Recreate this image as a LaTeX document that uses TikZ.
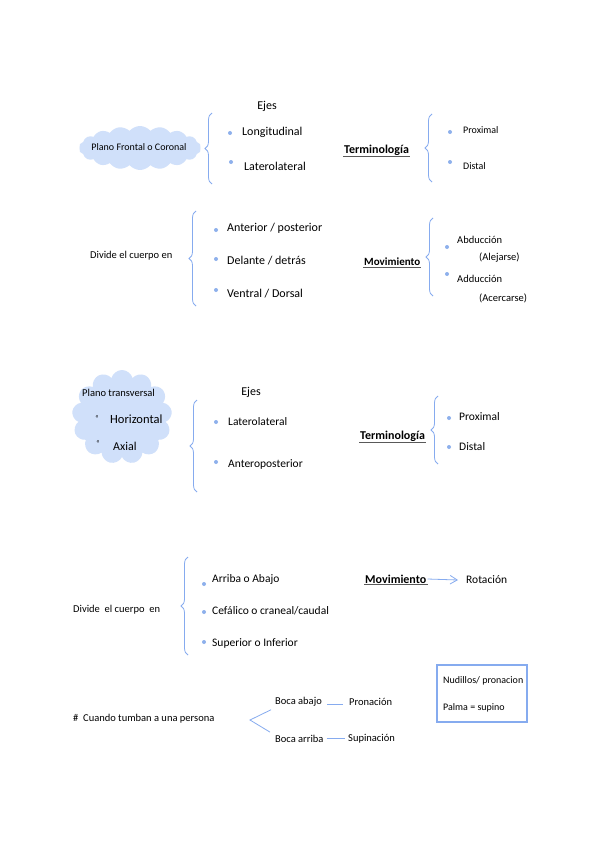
\documentclass[tikz,border=0pt]{standalone}
\usepackage{fontspec}
\setmainfont{Carlito}
\usepackage{tikz}
\usetikzlibrary{arrows.meta,positioning,decorations.pathreplacing,shapes.symbols}
\definecolor{penblue}{HTML}{86ABEF}
\definecolor{blobblue}{HTML}{D0E0FA}
\definecolor{dotblue}{HTML}{8EB0EC}

\begin{document}
\begin{tikzpicture}[
  x=1pt, y=-1pt,
  txt/.style={anchor=west, inner sep=0pt, font=\fontsize{11.5}{13}\selectfont},
  big/.style={txt, font=\fontsize{12}{14}\selectfont},
  small/.style={txt, font=\fontsize{10.5}{12}\selectfont},
  head/.style={anchor=west, inner sep=1pt, font=\bfseries\fontsize{12}{14}\selectfont},
  ejes/.style={inner sep=0pt, font=\fontsize{12}{14}\selectfont},
  blob/.style={cloud, cloud puffs=11, cloud ignores aspect, fill=blobblue,
    draw=none, inner sep=0pt},
  dot/.style={circle, fill=dotblue, inner sep=0pt, minimum size=4pt},
  brc/.style={decorate, decoration={brace, amplitude=7pt}, penblue, thick},
  ul/.style={draw=black!65, thick},
  link/.style={penblue, thick},
  arr/.style={-{Straight Barb[length=2.5mm, width=3mm]}, penblue, thick},
]
\fill[white] (0,0) rectangle (608,848);
\useasboundingbox (0,0) rectangle (608,848);

% (1) Plano frontal
\node[blob, cloud puffs=18, cloud puff arc=100, minimum width=122, minimum height=44]
  (frontal) at (140,148) {};
\node[small, anchor=center, font=\fontsize{10}{12}\selectfont] (frontalT) at (139,147) {Plano Frontal o Coronal};
\node[ejes] (ejes1) at (267,106) {Ejes};
\draw[brc] (212,184) -- (212,113);
\node[dot] (d11) at (230,133) {};
\node[dot] (d12) at (231,162) {};
\node[big] (longi) at (242,132) {Longitudinal};
\node[big] (latlat1) at (244,166) {Laterolateral};

\node[head] (term1) at (343,150) {Terminología};
\draw[ul] (term1.south west) -- (term1.south east);
\draw[brc] (432,182) -- (432,114);
\node[dot] (d13) at (450,132) {};
\node[dot] (d14) at (450,162) {};
\node[small, font=\fontsize{10}{12}\selectfont] (prox1) at (463,130) {Proximal};
\node[small, font=\fontsize{10}{12}\selectfont] (dist1) at (463,166) {Distal};

% (2) Divide el cuerpo / Movimiento
\node[small] (divide1) at (90,256) {Divide el cuerpo en};
\draw[brc] (196,306) -- (196,211);
\node[dot] (d21) at (216,230) {};
\node[dot] (d22) at (216,259) {};
\node[dot] (d23) at (216,290) {};
\node[big] (antpost) at (227,228) {Anterior / posterior};
\node[big] (deldet) at (227,261) {Delante / detrás};
\node[big] (ventdors) at (227,294) {Ventral / Dorsal};

\node[head, font=\bfseries\fontsize{11}{13}\selectfont] (mov1) at (363,262) {Movimiento};
\draw[ul] (mov1.south west) -- (mov1.south east);
\draw[brc] (433,296) -- (433,218);
\node[dot] (d24) at (447,247) {};
\node[dot] (d25) at (447,274) {};
\node[small] (abd) at (457,240) {Abducción};
\node[small] (alej) at (479,258) {(Alejarse)};
\node[small] (add) at (457,279) {Adducción};
\node[small] (acer) at (479,298) {(Acercarse)};

% (3) Plano transversal
\node[blob, cloud puffs=13, minimum width=100, minimum height=94] (transv) at (122,417) {};
\node[small] (transvT) at (82,393) {Plano transversal};
\node[small, font=\fontsize{7}{8}\selectfont] (g1) at (95,417) {«};
\node[txt, font=\fontsize{12.5}{14}\selectfont] (horiz) at (110,419) {Horizontal};
\node[small, font=\fontsize{7}{8}\selectfont] (g2) at (96,442) {«};
\node[txt, font=\fontsize{12}{14}\selectfont] (axial) at (113,446) {Axial};

\node[ejes] (ejes2) at (251,392) {Ejes};
\draw[brc] (197,492) -- (197,400);
\node[dot] (d31) at (216,422) {};
\node[dot] (d32) at (216,462) {};
\node[txt] (latlat2) at (228,422) {Laterolateral};
\node[txt] (antero) at (228,464) {Anteroposterior};

\node[head] (term2) at (359,436) {Terminología};
\draw[ul] (term2.south west) -- (term2.south east);
\draw[brc] (438,464) -- (438,396);
\node[dot] (d33) at (449,418) {};
\node[dot] (d34) at (449,447) {};
\node[txt] (prox2) at (459,417) {Proximal};
\node[txt] (dist2) at (459,447) {Distal};

% (4) Divide el cuerpo / Rotacion
\node[small] (divide2) at (73,610) {Divide\ \ el cuerpo\ \ en};
\draw[brc] (188,655) -- (188,557);
\node[dot] (d41) at (204,584) {};
\node[dot] (d42) at (204,612) {};
\node[dot] (d43) at (204,642) {};
\node[txt] (arriba) at (212,579) {Arriba o Abajo};
\node[txt] (cefal) at (212,611) {Cefálico o craneal/caudal};
\node[txt] (super) at (212,643) {Superior o Inferior};

\node[head] (mov2) at (364,579) {Movimiento};
\draw[ul] (mov2.south west) -- (mov2.south east);
\node[txt] (rot) at (466,580) {Rotación};
\draw[arr] (mov2.east) -- ([xshift=-8pt]rot.west);

% (5) Cuando tumban a una persona
\node[small] (tumban) at (73,719) {\#\ \ Cuando tumban a una persona};
\coordinate (fork) at (250,720);
\node[small] (bocaab) at (275,702) {Boca abajo};
\node[small] (bocaar) at (275,739) {Boca arriba};
\node[small] (pron) at (349,702) {Pronación};
\node[small] (supi) at (348,739) {Supinación};
\draw[link] ([xshift=-4pt,yshift=-3pt]bocaab.south west) -- (fork)
  -- ([xshift=-5pt,yshift=3pt]bocaar.north west);
\draw[link] ([xshift=5pt,yshift=-2pt]bocaab.east) -- ([xshift=-6pt,yshift=-2pt]pron.west);
\draw[link] ([xshift=3pt,yshift=1pt]bocaar.east) -- ([xshift=-3pt,yshift=1pt]supi.west);

\node[draw=penblue, very thick, minimum width=90, minimum height=57, inner sep=0pt]
  (memo) at (482,693.5) {};
\node[small, font=\fontsize{10}{12}\selectfont] (nudillos) at (443,681) {Nudillos/ pronacion};
\node[small, font=\fontsize{10}{12}\selectfont] (palma) at (443,708) {Palma = supino};
\end{tikzpicture}
\end{document}
